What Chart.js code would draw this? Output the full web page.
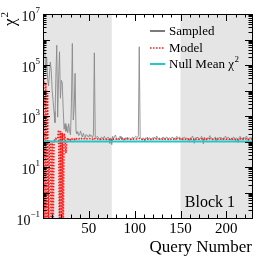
<!DOCTYPE html>
<html>
<head>
<meta charset="utf-8">
<script src="https://cdn.jsdelivr.net/npm/chart.js@4.4.1/dist/chart.umd.min.js"></script>
<style>
  html, body { margin: 0; padding: 0; background: #fff; }
  #wrap { width: 266px; height: 260px; }
</style>
</head>
<body>
<div id="wrap"><canvas id="chart"></canvas></div>
<script>
// ---- data (query 1..228) ----
const sampledChi2 = [
  1.0e6, 3.0e5, 6.0e4, 2.0e5, 3.0e4, 1.5e4, 4.0e4, 1.3e5, 6.0e4, 1.0e4, 4.0e3, 1.5e3,
  5.5e2, 3.0e4, 6.0e5, 9.0e2, 3.0e4, 3.3e5, 5.0e3, 2.5e4, 2.0e4, 2.0e3, 3.0e2, 5.0e2,
  2.5e2, 4.0e2, 2.2e2, 5.0e2, 2.6e2, 1.8e2, 3.0e3, 7.0e5, 7.0e2, 2.0e3, 4.7e4, 2.5e2,
  200, 240, 170, 190, 260, 180, 150, 210, 160, 140, 190, 170,
  160, 150, 190, 160, 170, 140, 180, 3.0e5, 150, 140, 160, 150,
  150, 120, 140, 150, 130, 140, 160, 130, 120, 140, 150, 130,
  85, 140, 75, 160, 130, 150, 180, 140, 125, 120, 140, 160,
  130, 150, 140, 110, 130, 140, 120, 150, 130, 140, 130, 120,
  140, 150, 130, 140, 160, 150, 140, 170, 5.2e5, 140, 130, 120,
  140, 130, 105, 140, 130, 150, 120, 140, 130, 115, 140, 130,
  150, 140, 130, 165, 140, 130, 140, 120, 130, 140, 150, 125,
  140, 130, 150, 140, 120, 140, 130, 140, 150, 130, 140, 120,
  140, 160, 130, 140, 150, 125, 115, 140, 130, 150, 140, 130,
  140, 120, 130, 95, 140, 130, 165, 140, 85, 140, 130, 150,
  140, 130, 120, 140, 160, 125, 80, 150, 130, 120, 140, 130,
  140, 170, 130, 140, 115, 130, 140, 150, 95, 140, 130, 140,
  150, 130, 140, 120, 140, 130, 165, 140, 130, 150, 140, 125,
  115, 140, 130, 150, 140, 105, 140, 130, 90, 140, 160, 130,
  140, 120, 150, 130, 140, 165, 130, 100, 140, 130, 150, 140
];

const modelChi2 = [
  3.0e4, 0.01, 2.0e4, 0.01, 8.0e3, 0.01, 110, 90, 0.01, 100, 0.01, 120,
  110, 130, 120, 140, 280, 0.01, 260, 0.01, 220, 0.01, 200, 150,
  35, 110, 140, 120, 130, 115, 135, 125, 130, 120, 135, 125,
  130, 135, 128, 132, 140, 130, 126, 134, 128, 124, 130, 128,
  127, 125, 130, 127, 128, 124, 129, 140, 126, 124, 127, 125,
  126, 122, 124, 126, 123, 124, 127, 123, 121, 124, 126, 123,
  115, 123, 112, 127, 123, 125, 130, 124, 122, 121, 124, 127,
  123, 126, 124, 119, 123, 124, 121, 126, 123, 124, 123, 121,
  124, 126, 123, 124, 127, 125, 124, 128, 132, 124, 123, 121,
  124, 123, 118, 124, 123, 125, 121, 124, 123, 120, 124, 123,
  125, 124, 123, 128, 124, 123, 124, 121, 123, 124, 126, 122,
  124, 123, 126, 124, 121, 124, 123, 124, 126, 123, 124, 121,
  124, 127, 123, 124, 126, 122, 120, 124, 123, 126, 124, 123,
  124, 121, 123, 116, 124, 123, 128, 124, 114, 124, 123, 126,
  124, 123, 121, 124, 127, 122, 113, 126, 123, 121, 124, 123,
  124, 128, 123, 124, 120, 123, 124, 126, 116, 124, 123, 124,
  126, 123, 124, 121, 124, 123, 128, 124, 123, 126, 124, 122,
  120, 124, 123, 126, 124, 118, 124, 123, 115, 124, 127, 123,
  124, 121, 126, 123, 124, 128, 123, 117, 124, 123, 126, 124
];

const nullMeanChi2 = 100;
const queries = sampledChi2.map((_, i) => i + 1);

const xTickLabels = [50, 100, 150, 200];
const yLabelExponents = [-1, 1, 3, 5, 7];
const shadedBlocks = [[0, 75], [150, 228]];
const blockLabel = 'Block 1';

const SERIF = "'Liberation Serif', 'DejaVu Serif', serif";
const SUP = { '-': '\u2212' };

// draws shading, frame, inward ticks, y labels, legend, block label
const framePlugin = {
  id: 'frame',
  beforeDatasetsDraw(chart) {
    const { ctx, chartArea: a, scales: { x } } = chart;
    ctx.save();
    ctx.fillStyle = '#e5e5e5';
    shadedBlocks.forEach(([from, to]) => {
      const x0 = x.getPixelForValue(from);
      const x1 = Math.min(x.getPixelForValue(to), a.right);
      ctx.fillRect(x0, a.top, x1 - x0, a.bottom - a.top);
    });
    ctx.restore();
  },
  afterDraw(chart) {
    const { ctx, chartArea: a, scales: { x, y } } = chart;
    ctx.save();
    ctx.strokeStyle = '#000';
    ctx.lineWidth = 1;

    const seg = (x0, y0, x1, y1) => {
      ctx.beginPath(); ctx.moveTo(x0, y0); ctx.lineTo(x1, y1); ctx.stroke();
    };

    // x ticks, bottom + top
    for (let v = 0; v <= x.max; v += 10) {
      const px = Math.round(x.getPixelForValue(v)) + 0.5;
      const len = v % 50 === 0 ? 7 : 3.5;
      seg(px, a.bottom, px, a.bottom - len);
      seg(px, a.top, px, a.top + len);
    }
    // y ticks, left + right
    for (let e = -1; e <= 7; e++) {
      for (let m = 1; m <= 9; m++) {
        if (e === 7 && m > 1) break;
        const py = Math.round(y.getPixelForValue(m * Math.pow(10, e))) + 0.5;
        const len = m === 1 ? 7 : 3.5;
        seg(a.left, py, a.left + len, py);
        seg(a.right, py, a.right - len, py);
      }
    }
    // frame
    ctx.strokeRect(Math.round(a.left) + 0.5, Math.round(a.top) + 0.5,
      Math.round(a.right - a.left), Math.round(a.bottom - a.top));

    // y tick labels 10^e
    ctx.fillStyle = '#000';
    ctx.textBaseline = 'alphabetic';
    yLabelExponents.forEach(e => {
      const py = y.getPixelForValue(Math.pow(10, e));
      const expText = String(e).replace('-', SUP['-']);
      ctx.font = `9px ${SERIF}`;
      const ew = ctx.measureText(expText).width;
      const right = a.left - 3;
      ctx.textAlign = 'left';
      ctx.fillText(expText, right - ew, py - 1);
      ctx.font = `14px ${SERIF}`;
      ctx.textAlign = 'right';
      ctx.fillText('10', right - ew, py + 7);
    });

    // y title chi^2, rotated
    ctx.save();
    ctx.translate(15, 26);
    ctx.rotate(-Math.PI / 2);
    ctx.textAlign = 'left';
    ctx.font = `17px ${SERIF}`;
    ctx.fillText('\u03c7', 0, 0);
    const cw = ctx.measureText('\u03c7').width;
    ctx.font = `11px ${SERIF}`;
    ctx.fillText('2', cw + 1, -7);
    ctx.restore();

    // legend
    const items = chart.data.datasets;
    const lx0 = 150, lx1 = 165, tx = 169;
    const rows = [31, 48, 64];
    items.forEach((ds, i) => {
      const ly = rows[i];
      ctx.save();
      ctx.strokeStyle = ds.legendColor || ds.borderColor;
      ctx.lineWidth = ds.legendWidth || ds.borderWidth;
      ctx.setLineDash(ds.borderDash || []);
      seg(lx0, ly, lx1, ly);
      ctx.restore();
      ctx.font = `13px ${SERIF}`;
      ctx.textAlign = 'left';
      ctx.textBaseline = 'middle';
      ctx.fillStyle = '#000';
      ctx.fillText(ds.label, tx, ly + 0.5);
      if (ds.labelSup) {
        const w = ctx.measureText(ds.label).width;
        ctx.font = `9px ${SERIF}`;
        ctx.fillText(ds.labelSup, tx + w + 0.5, ly - 4);
      }
    });

    // block label
    ctx.font = `16px ${SERIF}`;
    ctx.textAlign = 'right';
    ctx.textBaseline = 'alphabetic';
    ctx.fillText(blockLabel, a.right - 17, a.bottom - 11);
    ctx.restore();
  }
};

new Chart(document.getElementById('chart'), {
  type: 'line',
  data: {
    datasets: [
      {
        label: 'Sampled',
        data: queries.map((q, i) => ({ x: q, y: sampledChi2[i] })),
        borderColor: '#8a8a8a',
        legendColor: '#5a5a5a',
        borderWidth: 0.9,
        legendWidth: 1.6,
        pointRadius: 0,
        tension: 0,
        order: 3
      },
      {
        label: 'Model',
        data: queries.map((q, i) => ({ x: q, y: modelChi2[i] })),
        borderColor: '#ff1a1a',
        borderWidth: 1.6,
        borderDash: [1.5, 1.5],
        pointRadius: 0,
        tension: 0,
        order: 2
      },
      {
        label: 'Null Mean \u03c7',
        labelSup: '2',
        data: [0, ...queries].map(q => ({ x: q, y: nullMeanChi2 })),
        borderColor: '#22c8c8',
        borderWidth: 2,
        pointRadius: 0,
        tension: 0,
        order: 1
      }
    ]
  },
  options: {
    responsive: true,
    maintainAspectRatio: false,
    animation: false,
    layout: { padding: { top: 14, right: 14, left: 0, bottom: 0 } },
    plugins: { legend: { display: false }, tooltip: { enabled: false } },
    scales: {
      x: {
        type: 'linear',
        min: 0,
        max: 228,
        grid: { display: false, drawTicks: false },
        border: { display: false },
        afterBuildTicks: s => { s.ticks = xTickLabels.map(v => ({ value: v })); },
        ticks: {
          autoSkip: false,
          maxRotation: 0,
          padding: 2,
          color: '#000',
          font: { family: SERIF, size: 15 },
          callback: v => String(v)
        },
        title: {
          display: true,
          text: 'Query Number',
          align: 'end',
          color: '#000',
          font: { family: SERIF, size: 17 },
          padding: { top: 0, bottom: 2 }
        },
        afterFit: s => { s.height = 42; }
      },
      y: {
        type: 'logarithmic',
        min: 0.1,
        max: 1e7,
        grid: { display: false, drawTicks: false },
        border: { display: false },
        ticks: { display: false },
        afterFit: s => { s.width = 43; }
      }
    }
  },
  plugins: [framePlugin]
});
</script>
</body>
</html>
